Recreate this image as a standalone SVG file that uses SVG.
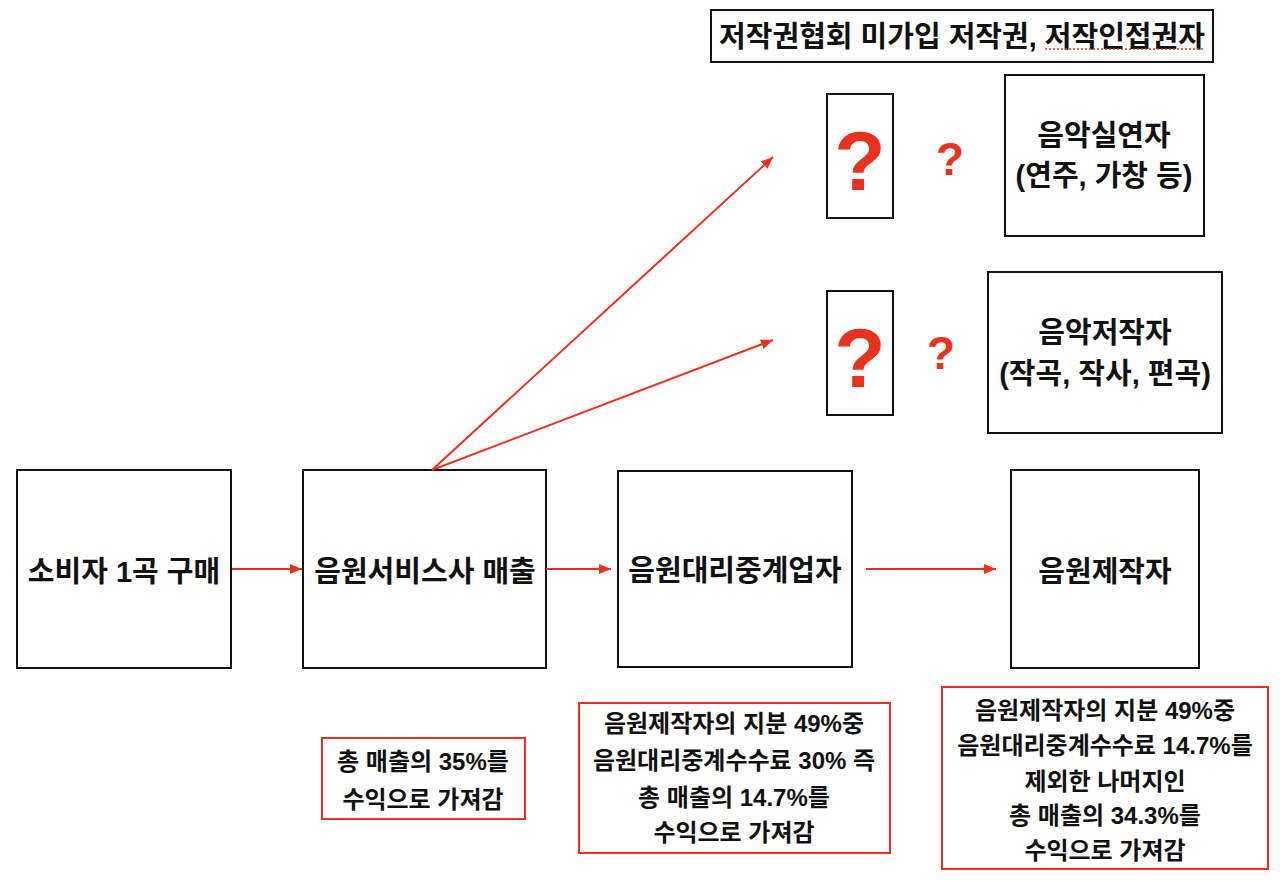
<svg xmlns="http://www.w3.org/2000/svg" width="1280" height="881" viewBox="0 0 1280 881">
<defs>
<marker id="ah" viewBox="0 0 12 10" refX="12" refY="5" markerWidth="12" markerHeight="10" markerUnits="userSpaceOnUse" orient="auto">
<path d="M0,0 L12,5 L0,10 Z" fill="#e8321f"/>
</marker>
<style>
text{font-family:"Liberation Sans","Noto Sans CJK KR",sans-serif;font-weight:bold;fill:#111;text-anchor:middle}
.box{fill:#fff;stroke:#111;stroke-width:2}
.note{fill:#fff;stroke:#e8321f;stroke-width:2}
.big{font-size:29px}
.mid{font-size:24px}
.q{fill:#e8321f;font-family:"Liberation Sans",sans-serif}
.conn{stroke:#e8321f;stroke-width:2;fill:none;marker-end:url(#ah)}
</style>
</defs>
<rect width="1280" height="881" fill="#fff"/>

<g id="title">
<rect class="box" x="711" y="10" width="502" height="52"/>
<text class="big" x="962" y="47">저작권협회 미가입 저작권, 저작인접권자</text>
<line x1="1045" y1="49" x2="1205" y2="49" stroke="#e8321f" stroke-width="1.5" stroke-dasharray="2,2"/>
</g>

<g id="q1">
<rect class="box" x="827" y="94" width="66" height="124"/>
<text class="q" x="860" y="190" font-size="84">?</text>
</g>
<text class="q" x="950" y="175" font-size="46">?</text>

<g id="q2">
<rect class="box" x="827" y="291" width="66" height="124"/>
<text class="q" x="860" y="387" font-size="84">?</text>
</g>
<text class="q" x="941" y="369" font-size="46">?</text>

<g id="performer">
<rect class="box" x="1005" y="75" width="199" height="161"/>
<text class="big" x="1104" y="146">음악실연자</text>
<text class="big" x="1104" y="186">(연주, 가창 등)</text>
</g>

<g id="author">
<rect class="box" x="988" y="272" width="234" height="161"/>
<text class="big" x="1105" y="343">음악저작자</text>
<text class="big" x="1105" y="384">(작곡, 작사, 편곡)</text>
</g>

<g id="consumer">
<rect class="box" x="17" y="470" width="214" height="198"/>
<text class="big" x="124" y="582">소비자 1곡 구매</text>
</g>

<g id="service">
<rect class="box" x="303" y="470" width="243" height="198"/>
<text class="big" x="425" y="582">음원서비스사 매출</text>
</g>

<g id="agent">
<rect class="box" x="618" y="471" width="234" height="196"/>
<text class="big" x="735" y="581">음원대리중계업자</text>
</g>

<g id="producer">
<rect class="box" x="1011" y="470" width="188" height="198"/>
<text class="big" x="1105" y="582">음원제작자</text>
</g>

<g id="note1">
<rect class="note" x="322" y="738" width="203" height="81"/>
<text class="mid" x="423" y="770">총 매출의 35%를</text>
<text class="mid" x="423" y="808">수익으로 가져감</text>
</g>

<g id="note2">
<rect class="note" x="579" y="703" width="311" height="150"/>
<text class="mid" x="734" y="732">음원제작자의 지분 49%중</text>
<text class="mid" x="734" y="769">음원대리중계수수료 30% 즉</text>
<text class="mid" x="734" y="806">총 매출의 14.7%를</text>
<text class="mid" x="734" y="841">수익으로 가져감</text>
</g>

<g id="note3">
<rect class="note" x="942" y="687" width="326" height="182"/>
<text class="mid" x="1105" y="719">음원제작자의 지분 49%중</text>
<text class="mid" x="1105" y="754">음원대리중계수수료 14.7%를</text>
<text class="mid" x="1105" y="790">제외한 나머지인</text>
<text class="mid" x="1105" y="824">총 매출의 34.3%를</text>
<text class="mid" x="1105" y="859">수익으로 가져감</text>
</g>

<g id="connectors">
<line class="conn" x1="232" y1="569" x2="302" y2="569"/>
<line class="conn" x1="546" y1="569" x2="611" y2="569"/>
<line class="conn" x1="866" y1="569" x2="996" y2="569"/>
<line class="conn" x1="432" y1="470" x2="773" y2="157"/>
<line class="conn" x1="432" y1="470" x2="773" y2="340"/>
</g>
</svg>
